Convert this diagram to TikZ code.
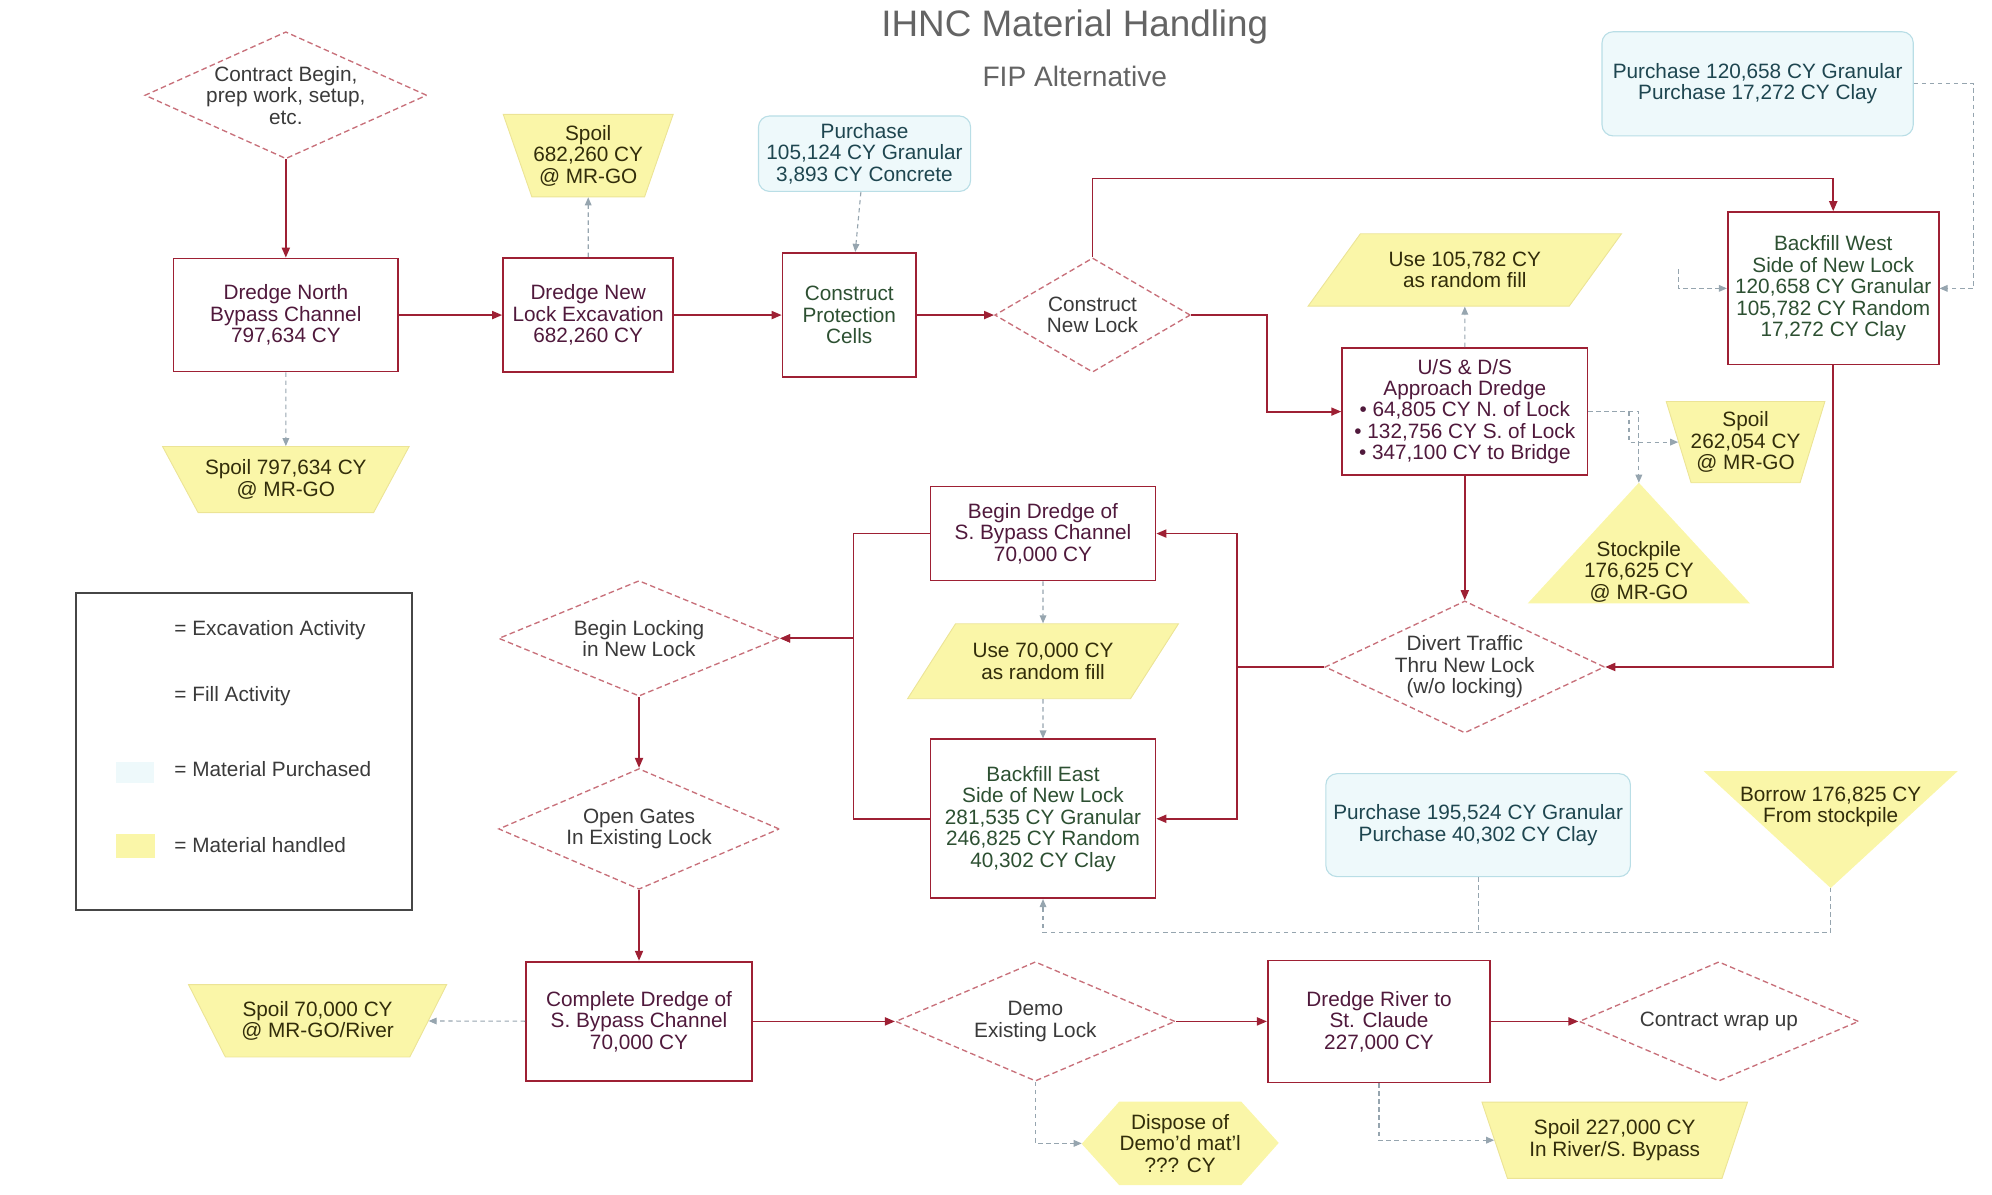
\documentclass[tikz,border=0pt]{standalone}
\usepackage{fontspec}
\setmainfont{Liberation Sans}
\usetikzlibrary{arrows.meta,positioning,calc,shapes.geometric,backgrounds}
\definecolor{exred}{RGB}{158,32,52}
\definecolor{diared}{RGB}{200,112,122}
\definecolor{exctext}{RGB}{80,25,60}
\definecolor{filtext}{RGB}{45,80,50}
\definecolor{diatext}{RGB}{58,58,58}
\definecolor{yel}{RGB}{250,246,168}
\definecolor{yelline}{RGB}{236,228,150}
\definecolor{yeltext}{RGB}{50,45,10}
\definecolor{cyfill}{RGB}{238,249,251}
\definecolor{cyline}{RGB}{185,222,230}
\definecolor{cytext}{RGB}{30,70,80}
\definecolor{lnk}{RGB}{150,165,175}
\definecolor{ttl}{RGB}{100,100,100}
\definecolor{legline}{RGB}{70,70,70}

\begin{document}
\begin{tikzpicture}[
      font=\fontsize{9.3}{9.6}\selectfont,
      arr/.style={-{Triangle[length=4.5pt,width=3.6pt]}, line width=0.8pt, exred},
      darr/.style={-{Triangle[length=3.6pt,width=3pt]}, line width=0.5pt, lnk,
                   dash pattern=on 2pt off 1.6pt},
      dln/.style={line width=0.5pt, lnk, dash pattern=on 2pt off 1.6pt},
      exc/.style={draw=exred, line width=0.8pt, fill=white, text=exctext,
                  align=center, inner sep=2pt},
      fil/.style={exc, text=filtext},
      dia/.style={diamond, aspect=#1, draw=diared, line width=0.6pt,
                  dash pattern=on 2.5pt off 1.5pt, fill=white, text=diatext,
                  align=center, inner sep=-2pt},
      spoil/.style={trapezium, trapezium stretches=true, trapezium angle=#1,
                    shape border rotate=180, fill=yel, draw=yelline, line width=0.4pt,
                    text=yeltext, align=center, inner xsep=-4pt, inner ysep=0pt},
      para/.style={trapezium, trapezium stretches=true, trapezium left angle=47,
                   trapezium right angle=133, fill=yel, draw=yelline, line width=0.4pt,
                   text=yeltext, align=center, inner xsep=-4pt, inner ysep=0pt},
      ytxt/.style={text=yeltext, align=center, inner sep=0pt},
      buy/.style={rounded corners=5pt, fill=cyfill, draw=cyline, line width=0.5pt,
                  text=cytext, align=center},
      lgd/.style={anchor=west, text=diatext, inner sep=0pt},
      ttl/.style={text=ttl},
    ]
    \useasboundingbox (0,0) rectangle (31.36,-18.8);

    \node[ttl, font=\fontsize{16.5}{18}\selectfont] (title) at (16.92,-0.42) {IHNC Material Handling};
    \node[ttl, font=\fontsize{12.6}{14}\selectfont] (subtitle) at (16.92,-1.20) {FIP Alternative};

    \node[dia=2.22, minimum width=4.44cm, minimum height=2.00cm] (start) at (4.50,-1.50) {Contract Begin,\\prep work, setup,\\etc.};
    \node[exc, minimum width=3.54cm, minimum height=1.78cm] (dnb) at (4.50,-4.96) {Dredge North\\Bypass Channel\\797,634 CY};
    \node[spoil=53.5, minimum width=3.90cm, minimum height=1.04cm] (spoilA) at (4.50,-7.55) {Spoil 797,634 CY\\@ MR-GO};
    \node[exc, minimum width=2.68cm, minimum height=1.80cm] (dnl) at (9.26,-4.96) {Dredge New\\Lock Excavation\\682,260 CY};
    \node[spoil=69, minimum width=2.68cm, minimum height=1.30cm] (spoilB) at (9.26,-2.45) {Spoil\\682,260 CY\\@ MR-GO};
    \node[buy, minimum width=3.34cm, minimum height=1.16cm] (buyA) at (13.61,-2.42) {Purchase\\105,124 CY Granular\\3,893 CY Concrete};
    \node[fil, minimum width=2.10cm, minimum height=1.96cm] (cpc) at (13.37,-4.96) {Construct\\Protection\\Cells};
    \node[dia=1.71, minimum width=3.08cm, minimum height=1.80cm] (cnl) at (17.20,-4.96) {Construct\\New Lock};

    \node[para, minimum width=4.96cm, minimum height=1.14cm] (useA) at (23.06,-4.25) {Use 105,782 CY\\as random fill};
    \node[exc, minimum width=3.86cm, minimum height=2.00cm] (usds) at (23.06,-6.48) {U/S \& D/S\\Approach Dredge\\\textbullet\ 64,805 CY N. of Lock\\\textbullet\ 132,756 CY S. of Lock\\\textbullet\ 347,100 CY to Bridge};
    \node[spoil=71, minimum width=2.50cm, minimum height=1.28cm] (spoilC) at (27.48,-6.96) {Spoil\\262,054 CY\\@ MR-GO};
    \node[ytxt] (stock) at (25.80,-9.00) {Stockpile\\176,625 CY\\@ MR-GO};
    \node[fil, minimum width=3.32cm, minimum height=2.40cm] (bfw) at (28.86,-4.54) {Backfill West\\Side of New Lock\\120,658 CY Granular\\105,782 CY Random\\17,272 CY Clay};
    \node[buy, minimum width=4.90cm, minimum height=1.64cm] (buyB) at (27.67,-1.32) {Purchase 120,658 CY Granular\\Purchase 17,272 CY Clay};
    \node[dia=2.12, minimum width=4.40cm, minimum height=2.08cm] (divert) at (23.06,-10.50) {Divert Traffic\\Thru New Lock\\(w/o locking)};

    \node[exc, minimum width=3.54cm, minimum height=1.48cm] (bds) at (16.42,-8.40) {Begin Dredge of\\S. Bypass Channel\\70,000 CY};
    \node[para, minimum width=4.28cm, minimum height=1.18cm] (useB) at (16.42,-10.41) {Use 70,000 CY\\as random fill};
    \node[fil, minimum width=3.54cm, minimum height=2.50cm] (bfe) at (16.42,-12.89) {Backfill East\\Side of New Lock\\281,535 CY Granular\\246,825 CY Random\\40,302 CY Clay};
    \node[buy, minimum width=4.66cm, minimum height=1.62cm] (buyC) at (23.27,-12.99) {Purchase 195,524 CY Granular\\Purchase 40,302 CY Clay};
    \node[ytxt] (borrow) at (28.82,-12.70) {Borrow 176,825 CY\\From stockpile};

    \node[dia=2.43, minimum width=4.42cm, minimum height=1.82cm] (block) at (10.06,-10.05) {Begin Locking\\in New Lock};
    \node[dia=2.33, minimum width=4.42cm, minimum height=1.90cm] (gates) at (10.06,-13.05) {Open Gates\\In Existing Lock};
    \node[exc, minimum width=3.56cm, minimum height=1.88cm] (cds) at (10.06,-16.08) {Complete Dredge of\\S. Bypass Channel\\70,000 CY};
    \node[spoil=55.6, minimum width=4.08cm, minimum height=1.14cm] (spoilD) at (5.00,-16.07) {Spoil 70,000 CY\\@ MR-GO/River};
    \node[dia=2.34, minimum width=4.40cm, minimum height=1.88cm] (demo) at (16.30,-16.08) {Demo\\Existing Lock};
    \node[exc, minimum width=3.50cm, minimum height=1.92cm] (drsc) at (21.71,-16.08) {Dredge River to\\St. Claude\\227,000 CY};
    \node[dia=2.34, minimum width=4.40cm, minimum height=1.88cm] (wrap) at (27.06,-16.08) {Contract wrap up};
    \node[ytxt, minimum width=1.90cm, minimum height=1.30cm] (dispose) at (18.58,-18.00) {Dispose of\\Demo'd mat'l\\??? CY};
    \node[spoil=66, minimum width=4.22cm, minimum height=1.20cm] (spoilE) at (25.42,-17.95) {Spoil 227,000 CY\\In River/S. Bypass};

    \coordinate (stocktop) at ($(stock)+(0,1.40)$);
    \coordinate (borrowtip) at ($(borrow)+(0,-1.28)$);
    \coordinate (disposetip) at ($(dispose.west)+(-0.59,0)$);
    \coordinate (feed) at ($(bfe.south)+(0,-0.52)$);
    \coordinate (wfill) at (26.42,-4.24);

    \begin{scope}[on background layer]
      \fill[yel] (stocktop) -- ($(stock)+(1.75,-0.50)$) -- ($(stock)+(-1.75,-0.50)$) -- cycle;
      \fill[yel] ($(borrow)+(-2.00,0.56)$) -- ($(borrow)+(2.00,0.56)$) -- (borrowtip) -- cycle;
      \fill[yel] (dispose.north west) -- (dispose.north east) -- ++(0.59,-0.65)
                 -- (dispose.south east) -- (dispose.south west) -- ++(-0.59,0.65) -- cycle;
    \end{scope}

    \node[draw=legline, line width=0.8pt, minimum width=5.28cm, minimum height=4.98cm] (legend) at (3.84,-11.83) {};
    \node[fill=cyfill, minimum width=0.60cm, minimum height=0.34cm, inner sep=0pt] (swbuy) at (2.12,-12.16) {};
    \node[fill=yel, minimum width=0.62cm, minimum height=0.38cm, inner sep=0pt] (swuse) at (2.13,-13.32) {};
    \node[lgd] (lgexc) at (2.74,-9.92) {= Excavation Activity};
    \node[lgd] (lgfil) at (2.74,-10.96) {= Fill Activity};
    \node[lgd] (lgbuy) at (2.74,-12.10) {= Material Purchased};
    \node[lgd] (lguse) at (2.74,-13.30) {= Material handled};

    \draw[arr] (start) -- (dnb);
    \draw[arr] (dnb) -- (dnl);
    \draw[arr] (dnl) -- (cpc);
    \draw[arr] (cpc) -- (cnl);
    \draw[arr] (cnl.north) -- ++(0,1.24) -| (bfw.north);
    \draw[arr] (cnl.east) -- ++(1.20,0) |- (usds.west);
    \draw[arr] (usds) -- (divert);
    \draw[arr] (bfw.south) |- (divert.east);
    \draw[arr] (divert.west) -- ++(-1.38,0) |- (bds.east);
    \draw[arr] (divert.west) -- ++(-1.38,0) |- (bfe.east);
    \draw[arr] (bds.west) -- ++(-1.20,0) |- (block.east);
    \draw[arr] (bfe.west) -- ++(-1.20,0) |- (block.east);
    \draw[arr] (block) -- (gates);
    \draw[arr] (gates) -- (cds);
    \draw[arr] (cds) -- (demo);
    \draw[arr] (demo) -- (drsc);
    \draw[arr] (drsc) -- (wrap);

    \draw[darr] (dnb) -- (spoilA);
    \draw[darr] (dnl) -- (spoilB);
    \draw[darr] (buyA) -- (cpc);
    \draw[darr] (usds) -- (useA);
    \draw[darr] (usds.east) -| (stocktop);
    \draw[darr] ($(usds.east)+(0.64,0)$) |- (spoilC);
    \draw[darr] (buyB.east) -- ++(0.94,0) |- (bfw.east);
    \draw[darr] (wfill) |- (bfw.west);
    \draw[darr] (bds) -- (useB);
    \draw[darr] (useB) -- (bfe);
    \draw[darr] (borrowtip) |- (feed) -- (bfe.south);
    \draw[dln] (buyC.south) -- (buyC.south |- feed);
    \draw[darr] (cds) -- (spoilD);
    \draw[darr] (demo.south) |- (disposetip);
    \draw[darr] (drsc.south) |- (spoilE);
  \end{tikzpicture}
\end{document}
